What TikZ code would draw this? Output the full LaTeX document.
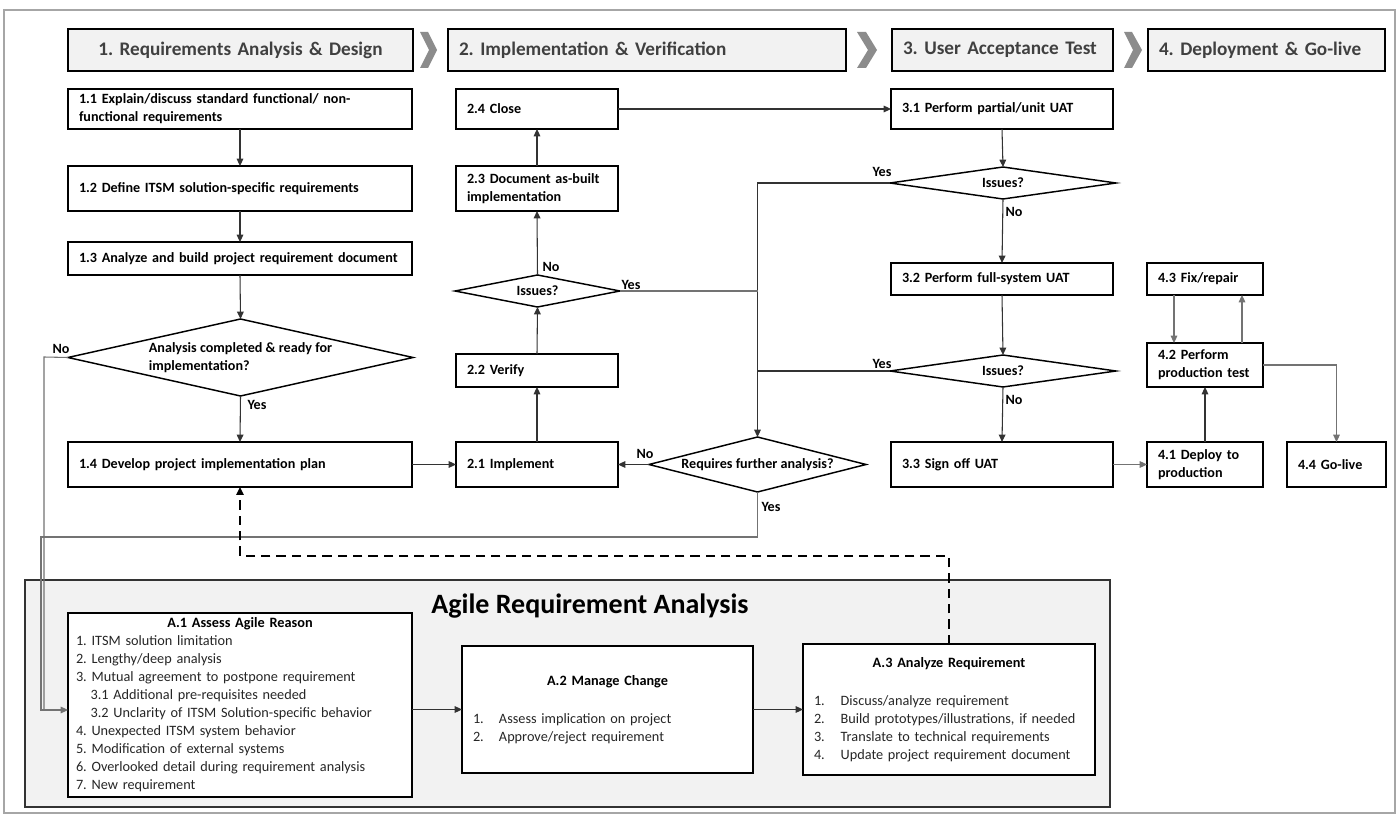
\documentclass[tikz,border=0pt]{standalone}
\usepackage{fontspec}
\setmainfont{Carlito}
\usetikzlibrary{arrows.meta,shapes.geometric}

\definecolor{hdrfill}{HTML}{F2F2F2}
\definecolor{agfill}{HTML}{F2F2F2}
\definecolor{chev}{HTML}{8C8C8C}
\definecolor{framec}{HTML}{A6A6A6}
\definecolor{hdrtext}{HTML}{404040}
\definecolor{listtext}{HTML}{262626}

\newcommand\bxfont{\fontsize{10.6}{13.5}\selectfont\bfseries}
\newcommand\lsfont{\fontsize{10.7}{13.5}\selectfont}
\newcommand\hdfont{\fontsize{14.4}{17}\selectfont\bfseries}
\def\boxpad{8.25pt}

\newcommand\mkbox[7][]{%
  \pgfmathsetlengthmacro\mybw{(#5-#3)*0.75pt}%
  \pgfmathsetlengthmacro\mybh{(#6-#4)*0.75pt}%
  \pgfmathsetlengthmacro\mytw{\mybw-2*\boxpad}%
  \node[flowbox, minimum width=\mybw, minimum height=\mybh, text width=\mytw, #1] (#2) at ({(#3+#5)/2},{(#4+#6)/2}) {#7};}

\newcommand\mkdiam[7][]{%
  \pgfmathsetlengthmacro\mybw{(#5-#3)*0.75pt}%
  \pgfmathsetlengthmacro\mybh{(#6-#4)*0.75pt}%
  \node[diam, minimum width=\mybw, minimum height=\mybh, label={[dtext]center:{#7}}, #1] (#2) at ({(#3+#5)/2},{(#4+#6)/2}) {};}

\tikzset{
  flowbox/.style={draw=black, line width=1.1pt, fill=white, rectangle, inner xsep=\boxpad, inner ysep=0pt, outer sep=0pt, align=left, font=\bxfont, text=black},
  hdrbox/.style={line width=1.6pt, fill=hdrfill, font=\hdfont, text=hdrtext},
  agbox/.style={draw=black!80, line width=1.1pt, fill=agfill},
  diam/.style={draw=black, line width=1.1pt, diamond, fill=white, inner sep=0pt, outer sep=0pt},
  dtext/.style={font=\bxfont, align=left, inner sep=0pt},
  conn/.style={draw=black!80, line width=0.8pt},
  lconn/.style={draw=black!55, line width=0.8pt},
  arr/.style={conn, -{Triangle[length=5.5pt,width=5pt]}},
  larr/.style={lconn, -{Triangle[length=5.5pt,width=5pt]}},
  lbl/.style={font=\bxfont, inner sep=0pt},
  dasharr/.style={draw=black, line width=1.6pt, dash pattern=on 7pt off 4.5pt, -{Triangle[length=6pt,width=5.5pt]}},
}

\begin{document}
\frenchspacing
\hyphenpenalty=10000
\exhyphenpenalty=10000
\begin{tikzpicture}[x=0.75pt, y=-0.75pt]
\useasboundingbox (0,0) rectangle (1400,816);
\fill[white] (0,0) rectangle (1400,816);
\draw[framec, line width=1.4pt] (4,10) rectangle (1395,813);

% headers
\mkbox[hdrbox, align=center]{h1}{68}{29}{413}{71}{1. Requirements Analysis \& Design}
\mkbox[hdrbox]{h2}{448}{29}{846}{71}{2. Implementation \& Verification}
\mkbox[hdrbox]{h3}{892}{29}{1113}{71}{3. User Acceptance Test}
\mkbox[hdrbox]{h4}{1148}{29}{1385}{71}{4. Deployment \& Go-live}
\fill[chev] (420,32) -- (428,32) -- (437,50) -- (428,68) -- (420,68) -- (429,50) -- cycle;
\fill[chev] (857,32) -- (866,32) -- (877,50) -- (866,68) -- (857,68) -- (868,50) -- cycle;
\fill[chev] (1124,32) -- (1132,32) -- (1142,50) -- (1132,68) -- (1124,68) -- (1133,50) -- cycle;

% agile container
\mkbox[agbox]{agile}{25}{580}{1110}{807}{}
\node[font=\fontsize{21}{25}\selectfont\bfseries, anchor=base, inner sep=0pt] (agtitle) at (590,613) {Agile Requirement Analysis};

% column 1
\mkbox{b11}{68}{89}{412}{129}{1.1 Explain/discuss standard functional/ non-\\functional requirements}
\mkbox{b12}{68}{166}{412}{211}{1.2 Define ITSM solution-specific requirements}
\mkbox{b13}{68}{242}{412}{275}{1.3 Analyze and build project requirement document}
\mkdiam{dA}{68}{319}{413}{396}{Analysis completed \& ready for\\implementation?}
\mkbox{b14}{68}{442}{412}{487}{1.4 Develop project implementation plan}

% column 2
\mkbox{b24}{456}{89}{618}{129}{2.4 Close}
\mkbox{b23}{456}{166}{618}{211}{2.3 Document as-built\\implementation}
\mkdiam{dI2}{455}{275}{620}{307}{Issues?}
\mkbox{b22}{456}{354}{618}{387}{2.2 Verify}
\mkbox{b21}{456}{442}{618}{487}{2.1 Implement}
\mkdiam{dR}{649}{437}{866}{492}{Requires further analysis?}

% column 3
\mkbox{b31}{891}{89}{1113}{129}{3.1 Perform partial/unit UAT}
\mkdiam{dU1}{890}{167}{1116}{199}{Issues?}
\mkbox{b32}{891}{263}{1113}{295}{3.2 Perform full-system UAT}
\mkdiam{dU2}{890}{355}{1116}{387}{Issues?}
\mkbox{b33}{891}{442}{1113}{487}{3.3 Sign off UAT}

% column 4
\mkbox{b43}{1147}{263}{1263}{295}{4.3 Fix/repair}
\mkbox{b42}{1147}{343}{1263}{387}{4.2 Perform\\production test}
\mkbox{b41}{1147}{442}{1263}{487}{4.1 Deploy to\\production}
\mkbox{b44}{1287}{442}{1386}{487}{4.4 Go-live}

% agile boxes
\def\boxpad{6pt}
\mkbox[font=\lsfont, text=listtext]{A1}{68}{613}{412}{797}{\makebox[\linewidth]{\bfseries\color{black}A.1 Assess Agile Reason}\\
1. ITSM solution limitation\\
2. Lengthy/deep analysis\\
3. Mutual agreement to postpone requirement\\
\hspace*{11pt}3.1 Additional pre-requisites needed\\
\hspace*{11pt}3.2 Unclarity of ITSM Solution-specific behavior\\
4. Unexpected ITSM system behavior\\
5. Modification of external systems\\
6. Overlooked detail during requirement analysis\\
7. New requirement}
\def\boxpad{8.25pt}
\mkbox[font=\lsfont, text=listtext]{A2}{462}{646}{753}{773}{\makebox[\linewidth]{\bfseries\color{black}A.2 Manage Change}\\[15pt]
\mbox{\makebox[19.5pt][l]{1.}Assess implication on project}\\
\mbox{\makebox[19.5pt][l]{2.}Approve/reject requirement}}
\mkbox[font=\lsfont, text=listtext]{A3}{803}{644}{1095}{775}{\makebox[\linewidth]{\bfseries\color{black}A.3 Analyze Requirement}\\[15pt]
\mbox{\makebox[20pt][l]{1.}Discuss/analyze requirement}\\
\mbox{\makebox[20pt][l]{2.}Build prototypes/illustrations, if needed}\\
\mbox{\makebox[20pt][l]{3.}Translate to technical requirements}\\
\mbox{\makebox[20pt][l]{4.}Update project requirement document}}

% connectors
\coordinate (nocol) at (44,357);
\coordinate (yescol) at (41,537);
\coordinate (dashy) at (0,556);

\draw[arr] (b11.south) -- (b12.north);
\draw[arr] (b12.south) -- (b13.north);
\draw[arr] (b13.south) -- (dA.north);
\draw[arr] (dA.south) -- (b14.north);
\draw[arr] (b14.east) -- (b21.west);
\draw[arr] (b21.north) -- (b22.south);
\draw[arr] (b22.north) -- (dI2.south);
\draw[arr] (dI2.north) -- (b23.south);
\draw[arr] (b23.north) -- (b24.south);
\draw[arr] (b24.east) -- (b31.west);
\draw[arr] (b31.south) -- (dU1.north);
\draw[arr] (dU1.south) -- (b32.north);
\draw[arr] (b32.south) -- (dU2.north);
\draw[arr] (dU2.south) -- (b33.north);
\draw[larr] (b33.east) -- (b41.west);
\draw[arr] (b41.north) -- (b42.south);
\draw[larr] ([xshift=-23.25pt]b43.south) -- ([xshift=-23.25pt]b42.north);
\draw[larr] ([xshift=27.75pt]b42.north) -- ([xshift=27.75pt]b43.south);
\draw[larr] (b42.east) -| (b44.north);
\draw[arr] (dU1.west) -| (dR.north);
\draw[lconn] (dI2.east) -- (dI2.east -| dR.north);
\draw[conn] (dU2.west) -- (dU2.west -| dR.north);
\draw[arr] (dR.west) -- (b21.east);
\draw[lconn] (dA.west) -- (nocol) -- (nocol |- A1.west) -- ++(0,5);
\draw[larr] (dR.south) |- (yescol) -- ([yshift=-3.75pt]yescol |- A1.west) -- ([yshift=-3.75pt]A1.west);
\draw[arr] (A1.east |- A2.west) -- (A2.west);
\draw[arr] (A2.east) -- (A3.west |- A2.east);
\draw[dasharr] (A3.north) |- (b14.south |- dashy) -- (b14.south);

% labels
\node[lbl] (lNoA) at (61,349) {No};
\node[lbl] (lYesA) at (257,405) {Yes};
\node[lbl] (lNoI2) at (551,267) {No};
\node[lbl] (lYesI2) at (631,285) {Yes};
\node[lbl] (lYesU1) at (882,172) {Yes};
\node[lbl] (lNoU1) at (1014,212) {No};
\node[lbl] (lYesU2) at (882,364) {Yes};
\node[lbl] (lNoU2) at (1014,400) {No};
\node[lbl] (lNoR) at (645,454) {No};
\node[lbl] (lYesR) at (771,507) {Yes};
\end{tikzpicture}
\end{document}
